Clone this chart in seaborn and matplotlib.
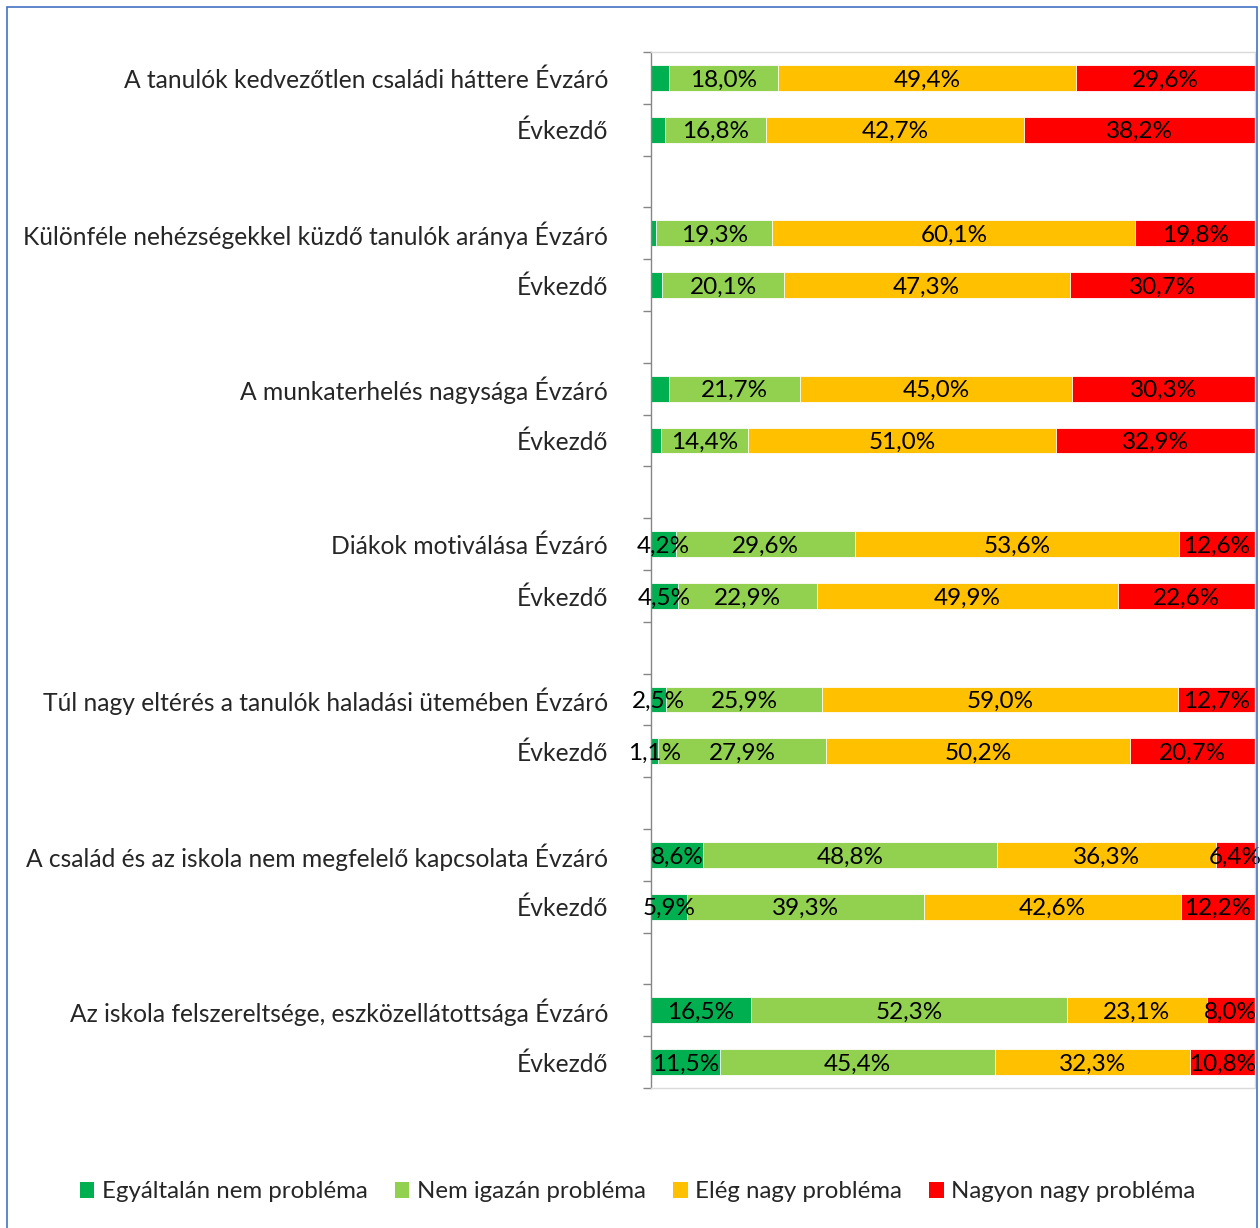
import numpy as np
import pandas as pd
import matplotlib
matplotlib.use("Agg")
import matplotlib.pyplot as plt
import seaborn as sns
from matplotlib.patches import Patch, Rectangle

categories = [
    "A tanulók kedvezőtlen családi háttere",
    "Különféle nehézségekkel küzdő tanulók aránya",
    "A munkaterhelés nagysága",
    "Diákok motiválása",
    "Túl nagy eltérés a tanulók haladási ütemében",
    "A család és az iskola nem megfelelő kapcsolata",
    "Az iskola felszereltsége, eszközellátottsága",
]
periods = ["Évzáró", "Évkezdő"]
series = ["Egyáltalán nem probléma", "Nem igazán probléma",
          "Elég nagy probléma", "Nagyon nagy probléma"]

# one value per bar, top to bottom (Évzáró, Évkezdő for each category)
egyaltalan = [3.0, 2.3, 0.8, 1.9, 3.0, 1.7, 4.2, 4.5, 2.5, 1.1, 8.6, 5.9, 16.5, 11.5]
nem_igazan = [18.0, 16.8, 19.3, 20.1, 21.7, 14.4, 29.6, 22.9, 25.9, 27.9, 48.8, 39.3, 52.3, 45.4]
eleg_nagy = [49.4, 42.7, 60.1, 47.3, 45.0, 51.0, 53.6, 49.9, 59.0, 50.2, 36.3, 42.6, 23.1, 32.3]
nagyon_nagy = [29.6, 38.2, 19.8, 30.7, 30.3, 32.9, 12.6, 22.6, 12.7, 20.7, 6.4, 12.2, 8.0, 10.8]
# az első hat sötétzöld szakasznak nincs felirata
egyaltalan_felirat = [False] * 6 + [True] * 8

colors = ["#00B050", "#92D050", "#FFC000", "#FF0000"]

sns.set_style("white")
plt.rcParams["font.family"] = ["Lato", "DejaVu Sans"]
FS = 17.7   # tengelyfeliratok
FS_VAL = 17.5  # adatfeliratok
FS_LEG = 17.3

# sorok: minden kategória után egy üres hely
rows = []
for i in range(len(egyaltalan)):
    g, p = divmod(i, 2)
    label = f"{categories[g]} {periods[p]}" if p == 0 else periods[p]
    rows.append({"pos": 3 * g + p, "label": label})
df = pd.DataFrame(rows)

vals = np.array([egyaltalan, nem_igazan, eleg_nagy, nagyon_nagy]).T
shares = vals / vals.sum(axis=1, keepdims=True) * 100
cum = shares.cumsum(axis=1)
for k in range(4):
    df[f"cum{k}"] = cum[:, k]

fig = plt.figure(figsize=(12.6, 12.28), dpi=100)
ax = fig.add_axes([651 / 1260, 1 - 1088 / 1228, 604 / 1260, 1036 / 1228])

for k in reversed(range(4)):
    sns.barplot(data=df, x=f"cum{k}", y="pos", orient="y", native_scale=True,
                color=colors[k], saturation=1, width=0.5, errorbar=None,
                edgecolor="white", linewidth=0.6, ax=ax)

for i, r in df.iterrows():
    for k in range(4):
        if k == 0 and not egyaltalan_felirat[i]:
            continue
        center = cum[i, k] - shares[i, k] / 2
        txt = f"{vals[i, k]:.1f}%".replace(".", ",")
        ax.text(center, r["pos"] + 0.04, txt, ha="center", va="center",
                fontsize=FS_VAL, color="black")

ax.set_xlim(0, 100)
ax.set_ylim(19.5, -0.5)
ax.set_xticks([])
ax.set_xlabel("")
ax.set_ylabel("")
ax.set_yticks(df["pos"], df["label"], fontsize=FS)
ax.set_yticks(np.arange(-0.5, 20, 1), minor=True)
ax.tick_params(axis="y", which="major", left=False, length=0, pad=31)
ax.tick_params(axis="y", which="minor", left=True, length=6, width=1,
               color="#868686")

for side in ["top", "right", "bottom"]:
    ax.spines[side].set_color("#D9D9D9")
    ax.spines[side].set_linewidth(1)
ax.spines["left"].set_color("#868686")
ax.spines["left"].set_linewidth(1)

handles = [Patch(facecolor=c, edgecolor="none") for c in colors]
fig.legend(handles, series, loc="center", bbox_to_anchor=(0.506, 1 - 1192 / 1228),
           ncol=4, frameon=False, fontsize=FS_LEG, handlelength=0.6,
           handleheight=0.6, handletextpad=0.3, columnspacing=1.15)

fig.patches.append(Rectangle((7 / 1260, -0.01), 1250 / 1260, 1.01 - 7 / 1228,
                             transform=fig.transFigure, fill=False,
                             edgecolor="#4472C4", linewidth=1.2))

fig.savefig("out.png", dpi=100)
